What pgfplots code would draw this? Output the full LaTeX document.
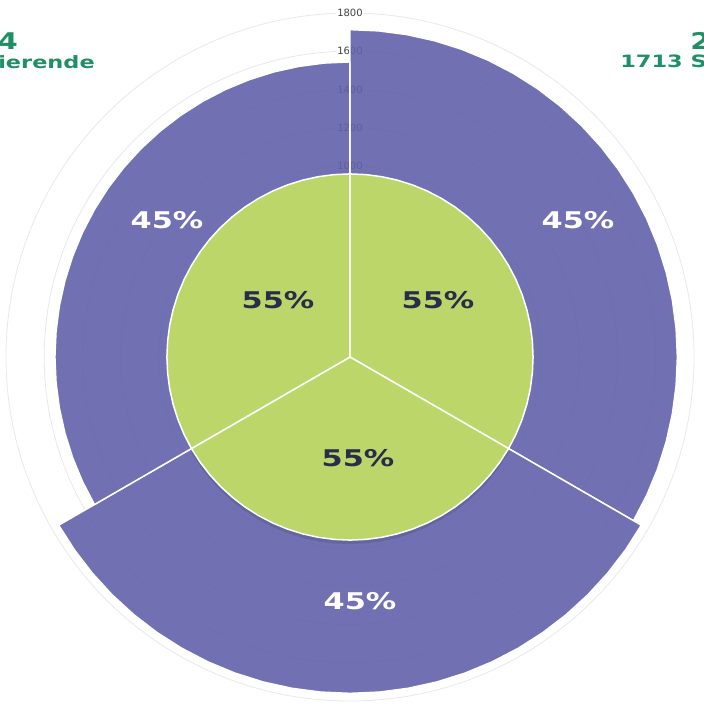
\documentclass[border=0pt]{standalone}
\usepackage{pgfplots}
\pgfplotsset{compat=1.18}
\usepgfplotslibrary{polar}
\usepackage{fontspec}
\setmainfont{DejaVu Sans}
\definecolor{purp}{RGB}{97,97,170}
\definecolor{grn}{RGB}{189,214,105}
\definecolor{dark}{RGB}{43,43,75}
\definecolor{ttl}{RGB}{31,143,102}
\definecolor{gridc}{RGB}{232,232,236}
\begin{document}
\begin{tikzpicture}
\begin{polaraxis}[
  at={(0,0)}, anchor=center,
  scale only axis, width=688pt, height=688pt,
  ymin=0, ymax=1800, clip=false,
  xtick=\empty, xmajorgrids=false,
  ytick={1000,1200,1400,1600,1800}, yticklabels={},
  ymajorgrids, grid style={gridc, line width=0.8pt},
  axis line style={draw=none},
  major tick length=0pt,
]
% radial tick labels (behind the sectors)
\node[font=\fontsize{10}{11}\selectfont, text=black!75, fill=white, inner sep=1pt] at (axis cs:90,1800) {1800};
\node[font=\fontsize{10}{11}\selectfont, text=black!75, fill=white, inner sep=1pt] at (axis cs:90,1600) {1600};
\node[font=\fontsize{10}{11}\selectfont, text=black!75, inner sep=1pt] at (axis cs:90,1400) {1400};
\node[font=\fontsize{10}{11}\selectfont, text=black!75, inner sep=1pt] at (axis cs:90,1200) {1200};
\node[font=\fontsize{10}{11}\selectfont, text=black!75, inner sep=1pt] at (axis cs:90,1000) {1000};
% outer (total) sectors
\addplot[fill=purp, fill opacity=0.9, draw=white, line width=1.5pt, line join=round] coordinates {
(90,0) (90,1713) (85,1713) (80,1713) (75,1713) (70,1713) (65,1713) (60,1713) (55,1713) (50,1713) (45,1713) (40,1713) (35,1713) (30,1713) (25,1713) (20,1713) (15,1713) (10,1713) (5,1713) (0,1713) (-5,1713) (-10,1713) (-15,1713) (-20,1713) (-25,1713) (-30,1713) (-30,0)};
\addplot[fill=purp, fill opacity=0.9, draw=white, line width=1.5pt, line join=round] coordinates {
(-30,0) (-30,1760) (-35,1760) (-40,1760) (-45,1760) (-50,1760) (-55,1760) (-60,1760) (-65,1760) (-70,1760) (-75,1760) (-80,1760) (-85,1760) (-90,1760) (-95,1760) (-100,1760) (-105,1760) (-110,1760) (-115,1760) (-120,1760) (-125,1760) (-130,1760) (-135,1760) (-140,1760) (-145,1760) (-150,1760) (-150,0)};
\addplot[fill=purp, fill opacity=0.9, draw=white, line width=1.5pt, line join=round] coordinates {
(210,0) (210,1544) (205,1544) (200,1544) (195,1544) (190,1544) (185,1544) (180,1544) (175,1544) (170,1544) (165,1544) (160,1544) (155,1544) (150,1544) (145,1544) (140,1544) (135,1544) (130,1544) (125,1544) (120,1544) (115,1544) (110,1544) (105,1544) (100,1544) (95,1544) (90,1544) (90,0)};
% soft shadow below the inner disc
\addplot[fill=black, fill opacity=0.10, draw=none, yshift=-4pt] coordinates {
(-30,0) (-30,958) (-35,958) (-40,958) (-45,958) (-50,958) (-55,958) (-60,958) (-65,958) (-70,958) (-75,958) (-80,958) (-85,958) (-90,958) (-95,958) (-100,958) (-105,958) (-110,958) (-115,958) (-120,958) (-125,958) (-130,958) (-135,958) (-140,958) (-145,958) (-150,958) (-150,0)};
% inner sectors
\addplot[fill=grn, draw=white, line width=1.5pt, line join=round] coordinates {
(90,0) (90,958) (85,958) (80,958) (75,958) (70,958) (65,958) (60,958) (55,958) (50,958) (45,958) (40,958) (35,958) (30,958) (25,958) (20,958) (15,958) (10,958) (5,958) (0,958) (-5,958) (-10,958) (-15,958) (-20,958) (-25,958) (-30,958) (-30,0)};
\addplot[fill=grn, draw=white, line width=1.5pt, line join=round] coordinates {
(-30,0) (-30,958) (-35,958) (-40,958) (-45,958) (-50,958) (-55,958) (-60,958) (-65,958) (-70,958) (-75,958) (-80,958) (-85,958) (-90,958) (-95,958) (-100,958) (-105,958) (-110,958) (-115,958) (-120,958) (-125,958) (-130,958) (-135,958) (-140,958) (-145,958) (-150,958) (-150,0)};
\addplot[fill=grn, draw=white, line width=1.5pt, line join=round] coordinates {
(210,0) (210,958) (205,958) (200,958) (195,958) (190,958) (185,958) (180,958) (175,958) (170,958) (165,958) (160,958) (155,958) (150,958) (145,958) (140,958) (135,958) (130,958) (125,958) (120,958) (115,958) (110,958) (105,958) (100,958) (95,958) (90,958) (90,0)};
\end{polaraxis}
% percentage labels
\tikzset{pw/.style={font=\fontsize{23}{24}\selectfont\bfseries, text=white, xscale=1.32, inner sep=0pt},
         pd/.style={font=\fontsize{23}{24}\selectfont\bfseries, text=dark, xscale=1.32, inner sep=0pt}}
\node[pw] at (228pt,137pt) {45\%};
\node[pw] at (-183pt,137pt) {45\%};
\node[pw] at (10pt,-244pt) {45\%};
\node[pd] at (-72pt,57pt) {55\%};
\node[pd] at (88pt,57pt) {55\%};
\node[pd] at (8pt,-101pt) {55\%};
% titles (cut by page edge, as in the reference)
\node[font=\fontsize{23}{24}\selectfont\bfseries, text=ttl, xscale=1.25, anchor=base east, inner sep=0pt] at (-332pt,307pt) {2024};
\node[font=\fontsize{17}{18}\selectfont\bfseries, text=ttl, xscale=1.32, anchor=base east, inner sep=0pt] at (-255pt,288pt) {1544 Studierende};
\node[font=\fontsize{23}{24}\selectfont\bfseries, text=ttl, xscale=1.25, anchor=base west, inner sep=0pt] at (340pt,307pt) {2022};
\node[font=\fontsize{17}{18}\selectfont\bfseries, text=ttl, xscale=1.32, anchor=base west, inner sep=0pt] at (270pt,289pt) {1713 Studierende};
\pgfresetboundingbox
\useasboundingbox (-350pt,-354pt) rectangle (353pt,357pt);
\end{tikzpicture}
\end{document}
